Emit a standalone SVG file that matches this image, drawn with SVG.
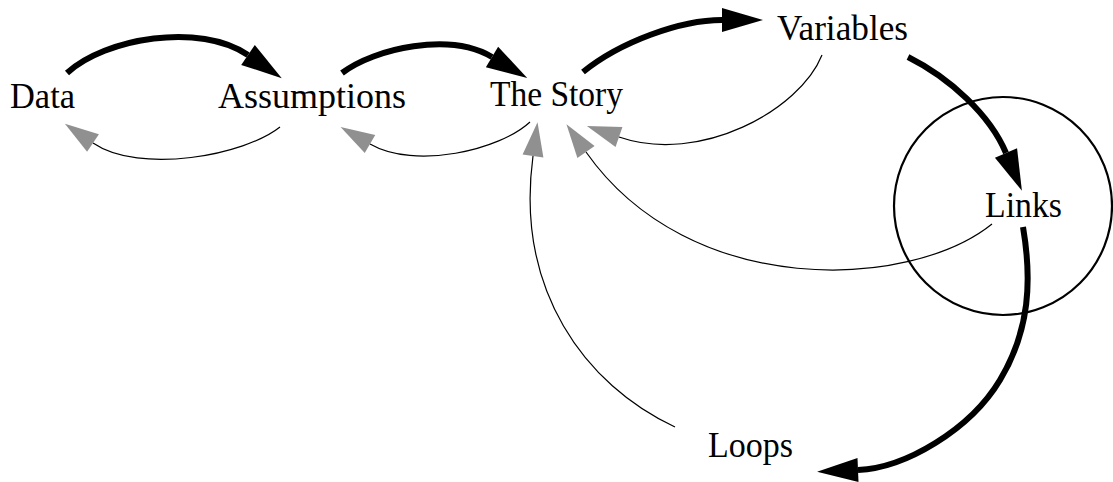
<svg xmlns="http://www.w3.org/2000/svg" width="1113" height="482" viewBox="0 0 1113 482">
  <style>
    .label { font-family: "Liberation Serif", "Times New Roman", serif; font-size: 35px; fill: #000; }
    .strong { fill: none; stroke: #000; stroke-width: 6; marker-end: url(#headStrong); }
    .weak { fill: none; stroke: #000; stroke-width: 1.2; marker-end: url(#headWeak); }
  </style>
  <defs>
    <marker id="headStrong" markerUnits="userSpaceOnUse" markerWidth="44" markerHeight="28" refX="0" refY="12" orient="auto" overflow="visible">
      <path d="M0,0 L41,12 L0,24 Z" fill="#000"/>
    </marker>
    <marker id="headWeak" markerUnits="userSpaceOnUse" markerWidth="38" markerHeight="22" refX="0" refY="10.5" orient="auto" overflow="visible">
      <path d="M0,0 L34,10.5 L0,21 Z" fill="#909090"/>
    </marker>
  </defs>

  <!-- circle around Links -->
  <circle cx="1003" cy="206" r="109" fill="none" stroke="#000" stroke-width="2.2"/>

  <g id="connectors">
    <!-- forward chain -->
    <path class="strong" d="M67,73 C105,38 200,22 248,55"/>
    <path class="strong" d="M342,73 C375,48 450,32 492,57"/>
    <path class="strong" d="M583,72 C620,42 680,20 722,20"/>
    <path class="strong" d="M908,57 C950,78 990,115 1006,153"/>
    <path class="strong" d="M1023,227 C1032,280 1030,330 1000,380 C970,430 905,468 858,470"/>
    <!-- feedback to earlier steps -->
    <path class="weak" d="M280,127 C245,155 140,175 93,143"/>
    <path class="weak" d="M530,122 C500,150 415,170 370,144"/>
    <path class="weak" d="M822,55 C800,110 700,165 619,137"/>
    <path class="weak" d="M992,224 C910,290 690,300 586,152"/>
    <path class="weak" d="M675,427 C585,385 515,290 533,156"/>
  </g>

  <g id="node-data"><text class="label" x="10" y="108" textLength="65" lengthAdjust="spacingAndGlyphs">Data</text></g>
  <g id="node-assumptions"><text class="label" x="218" y="108" textLength="188" lengthAdjust="spacingAndGlyphs">Assumptions</text></g>
  <g id="node-story"><text class="label" x="490" y="106" textLength="133" lengthAdjust="spacingAndGlyphs">The Story</text></g>
  <g id="node-variables"><text class="label" x="777" y="40" textLength="131" lengthAdjust="spacingAndGlyphs">Variables</text></g>
  <g id="node-links"><text class="label" x="985" y="217" textLength="77" lengthAdjust="spacingAndGlyphs">Links</text></g>
  <g id="node-loops"><text class="label" x="708" y="457" textLength="85" lengthAdjust="spacingAndGlyphs">Loops</text></g>
</svg>
